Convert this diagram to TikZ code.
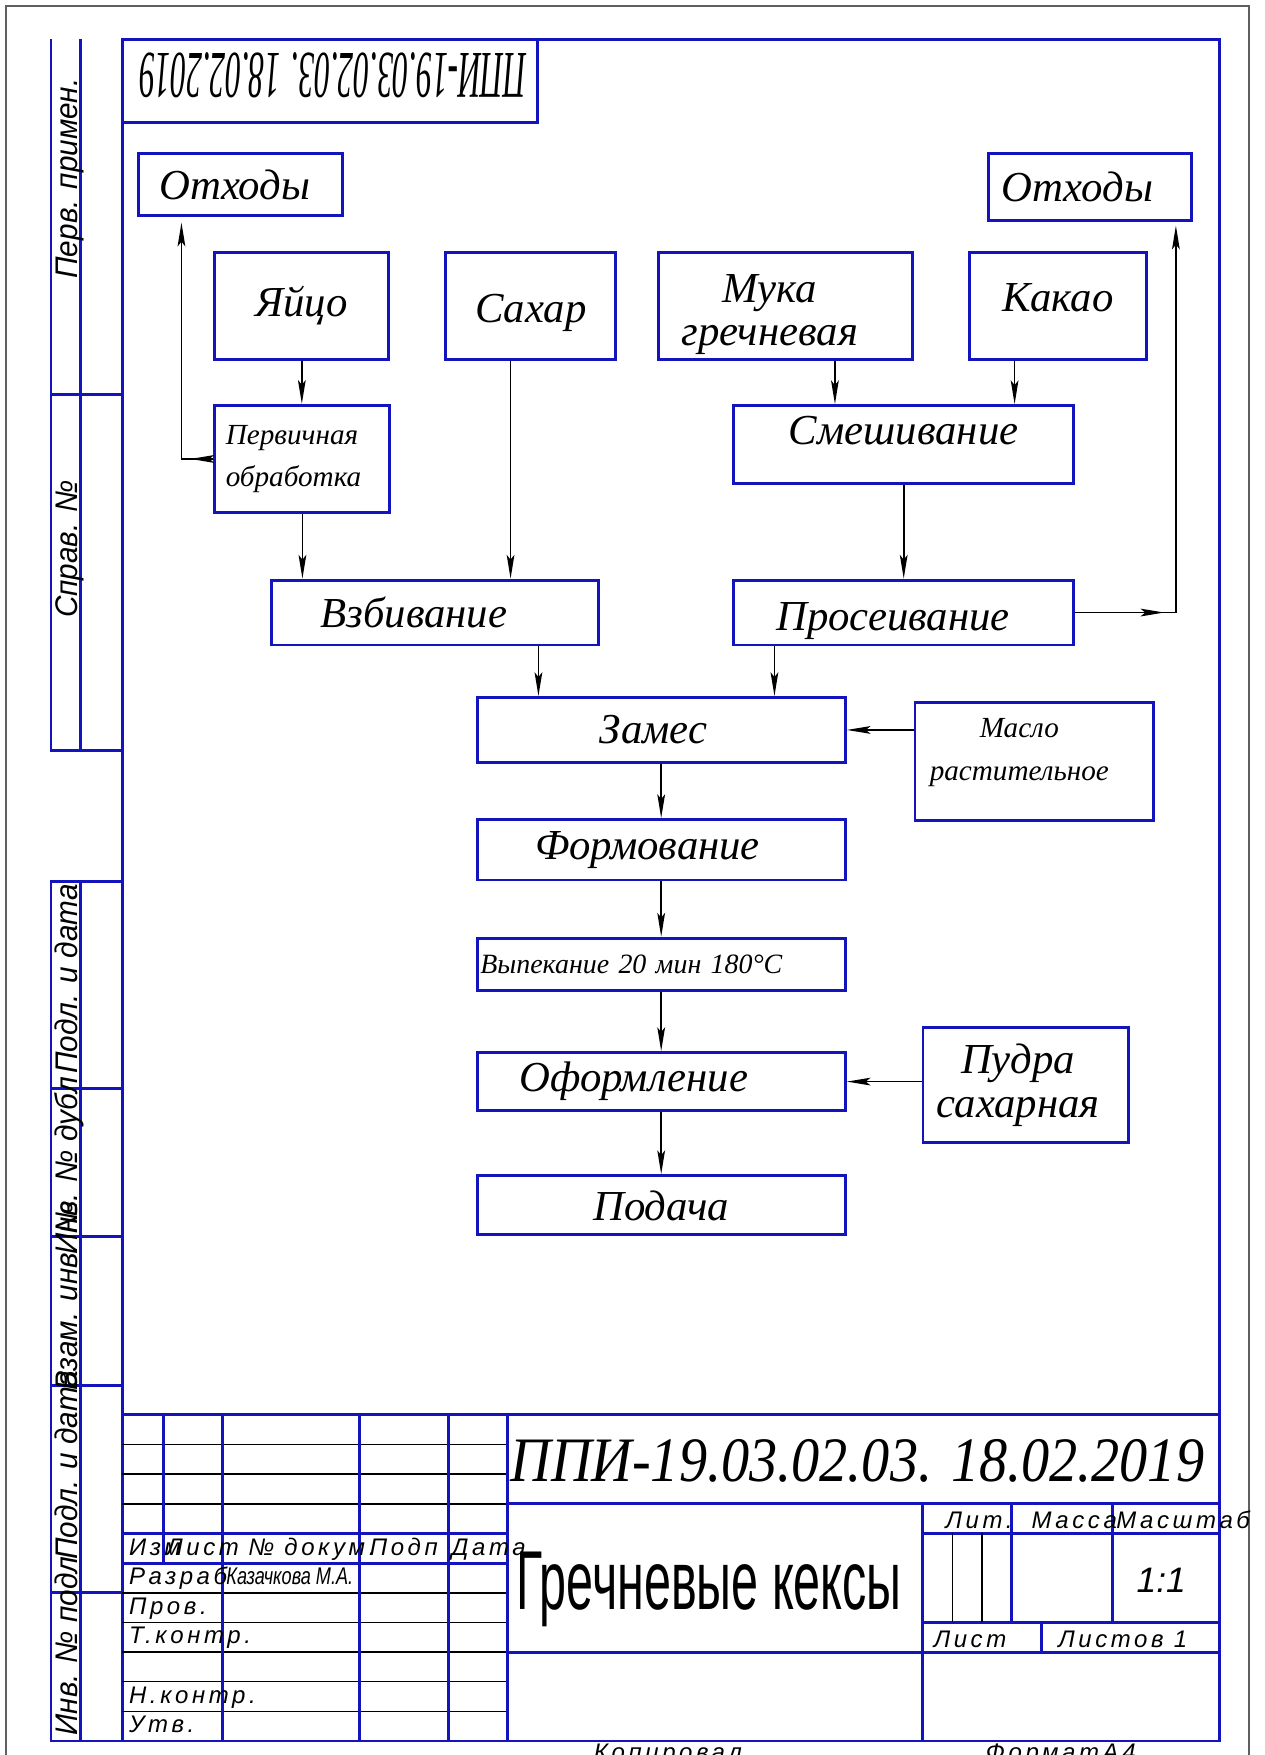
\documentclass[tikz,border=0pt]{standalone}
\usepackage{fontspec}
\setmainfont{Liberation Serif}
\newfontfamily\gostfont[LetterSpace=15]{Liberation Sans}
\newfontfamily\sidefont[FakeStretch=0.95]{Liberation Sans}
\newfontfamily\narrowfont{Liberation Sans}
\usetikzlibrary{arrows.meta,positioning,calc}
\definecolor{frameblue}{RGB}{20,20,190}
\definecolor{sheetgray}{RGB}{95,95,95}
\tikzset{
	>={Stealth[length=4mm,width=1.3mm,inset=0.8mm]},
	box/.style={draw=frameblue, line width=0.5mm, inner sep=0pt, align=center,
		font=\itshape\fontsize{20.5}{21}\selectfont},
	smallbox/.style={box, font=\itshape\fontsize{14}{20.5}\selectfont},
	arr/.style={->, line width=0.3mm},
	bline/.style={draw=frameblue, line width=0.5mm},
	tline/.style={draw=black, line width=0.25mm},
	sidetxt/.style={rotate=90, anchor=base, inner sep=0pt,
		font=\sidefont\itshape\fontsize{15}{15}\selectfont},
	gost/.style={anchor=base west, inner sep=0pt,
		font=\gostfont\itshape\fontsize{11.5}{12}\selectfont},
}

\begin{document}
\begin{tikzpicture}[x=1mm, y=1mm]
	\useasboundingbox (-20.6,-2.36) rectangle (192.7,293.6);
	\fill[white] (-20.6,-2.36) rectangle (192.7,293.6);
	% sheet edge
	\draw[sheetgray, line width=0.35mm] (-19.6,-10) -- (-19.6,292.6) -- (190,292.6) -- (190,-10);

	% frame and side columns
	\draw[bline] (0,0) rectangle (185,287);
	\draw[bline] (0,0) -- (-12,0) -- (-12,145) -- (0,145);
	\draw[bline] (-7,0) -- (-7,145);
	\foreach \y in {25,60,85,110}
		\draw[bline] (-12,\y) -- (0,\y);
	\draw[bline] (0,167) -- (-12,167) -- (-12,287);
	\draw[bline] (-7,167) -- (-7,287);
	\draw[bline] (-12,227) -- (0,227);
	\draw[bline] (0,273) rectangle (70,287);
	\foreach \y/\word [count=\i] in {16/Инв. № подл, 46.5/Подл. и дата, 75/Взам. инв. №, 97/Инв. № дубл, 128.5/Подл. и дата, 201/Справ. №, 263.5/Перв. примен.}
		\node[sidetxt] (side\i) at (-7.6,\y) {\word};
	\node[rotate=180, inner sep=0pt] (code) at (35.55,280.85) {\resizebox{65.3mm}{7.5mm}{\itshape ППИ-19.03.02.03. 18.02.2019}};

	% flow chart
	\node[box, minimum width=34.4mm, minimum height=10.4mm] (otx1) at (20.0,262.5) {Отходы\hspace*{2mm}};
	\node[box, minimum width=34.2mm, minimum height=11.3mm] (otx2) at (163.2,262.05) {Отходы\hspace*{4.2mm}};
	\node[box, minimum width=29.3mm, minimum height=17.9mm] (yaico) at (30.3,242.0) {Яйцо};
	\node[box, minimum width=28.7mm, minimum height=17.9mm, text height=5.6mm, text depth=0mm] (sahar) at (68.9,242.0) {Сахар};
	\node[box, minimum width=42.9mm, minimum height=17.9mm] (muka) at (111.9,242.0) {\rule{0pt}{7.6mm}Мука\hspace*{5.4mm}\\гречневая\hspace*{5.4mm}};
	\node[box, minimum width=29.8mm, minimum height=17.9mm, text height=4.75mm, text depth=2.75mm] (kakao) at (157.8,242.0) {Какао};
	\node[smallbox, minimum width=29.5mm, minimum height=18.1mm, align=left] (perv) at (30.4,216.2) {Первичная\\обработка\hspace*{3mm}};
	\node[box, minimum width=57.4mm, minimum height=13.2mm, text height=4.7mm, text depth=4.7mm] (smesh) at (131.8,218.6) {Смешивание};
	\node[box, minimum width=55.1mm, minimum height=10.95mm] (vzbiv) at (52.7,190.3) {Взбивание\hspace*{7mm}};
	\node[box, minimum width=57.4mm, minimum height=10.95mm, text height=6mm, text depth=0mm] (pros) at (131.8,190.3) {Просеивание\hspace*{3.6mm}};
	\node[box, minimum width=62.1mm, minimum height=10.95mm] (zames) at (90.9,170.5) {Замес\hspace*{2.6mm}};
	\node[smallbox, minimum width=40.2mm, minimum height=20mm] (maslo) at (153.8,165.2) {Масло\hspace*{5mm}\\растительное\hspace*{5mm}\rule[-4.1mm]{0pt}{4.1mm}};
	\node[box, minimum width=62.1mm, minimum height=10.2mm] (form) at (90.9,150.3) {Формование\hspace*{4.6mm}};
	\node[box, minimum width=62.1mm, minimum height=8.9mm, text width=61mm, align=left,
		font=\itshape\fontsize{13.4}{15}\selectfont] (vypek) at (90.9,130.95) {Выпекание 20 мин 180°C};
	\node[box, minimum width=62.1mm, minimum height=9.8mm] (oform) at (90.9,111.2) {Оформление\hspace*{9.2mm}};
	\node[box, minimum width=34.7mm, minimum height=19.3mm] (pudra) at (152.4,110.65) {Пудра\hspace*{2.6mm}\\сахарная\hspace*{2.6mm}};
	\node[box, minimum width=62.1mm, minimum height=10mm, text height=5mm, text depth=0mm] (podacha) at (90.9,90.35) {Подача};

	\draw[arr] (yaico.south) -- (yaico.south |- perv.north);
	\draw[arr] (perv.south) -- (perv.south |- vzbiv.north);
	\draw[arr] ([xshift=-3.4mm]sahar.south) -- ([xshift=-3.4mm]sahar.south |- vzbiv.north);
	\draw[arr] ([xshift=8.3mm]muka.south) -- ([xshift=8.3mm]muka.south |- smesh.north);
	\draw[arr] ([xshift=-7.3mm]kakao.south) -- ([xshift=-7.3mm]kakao.south |- smesh.north);
	\draw[arr] (smesh) -- (pros);
	\draw[arr] ([xshift=17.5mm]vzbiv.south) -- ([xshift=17.5mm]vzbiv.south |- zames.north);
	\draw[arr] ([xshift=-21.8mm]pros.south) -- ([xshift=-21.8mm]pros.south |- zames.north);
	\draw[arr] (zames) -- (form);
	\draw[arr] (form) -- (vypek);
	\draw[arr] (vypek) -- (oform);
	\draw[arr] (oform) -- (podacha);
	\draw[arr] (maslo.west |- zames.east) -- (zames.east);
	\draw[arr] (pudra.west |- oform.east) -- (oform.east);
	% waste
	\draw[arr] (perv.west) -- ++(-3.9,0);
	\draw[arr, shorten >=1mm] (perv.west) -| ([xshift=-10mm]otx1.south);
	\draw[arr] (pros.east) -- ++(15,0);
	\draw[arr, shorten >=0.6mm] (pros.east) -| ([xshift=14.5mm]otx2.south);

	% title block
	\draw[bline] (0,55) -- (185,55);
	\foreach \y in {50,45,40,25,20,15,10,5}
		\draw[tline] (0,\y) -- (65,\y);
	\draw[bline] (0,35) -- (65,35);
	\draw[bline] (0,30) -- (65,30);
	\draw[bline] (7,30) -- (7,55);
	\foreach \x in {17,40,55,65}
		\draw[bline] (\x,0) -- (\x,55);
	\draw[bline] (65,40) -- (185,40);
	\draw[bline] (65,15) -- (185,15);
	\draw[bline] (135,0) -- (135,40);
	\draw[bline] (135,35) -- (185,35);
	\draw[bline] (135,20) -- (185,20);
	\draw[bline] (150,20) -- (150,40);
	\draw[bline] (167,20) -- (167,40);
	\draw[tline] (140,20) -- (140,35);
	\draw[tline] (145,20) -- (145,35);
	\draw[bline] (155,15) -- (155,20);

	\node[gost] (izm) at (1.1,31.2) {Изм};
	\node[gost] (list) at (7.4,31.2) {Лист};
	\node[gost] (ndoc) at (21.2,31.2) {№ докум.};
	\node[gost] (podp) at (41.7,31.2) {Подп};
	\node[gost] (data) at (55.5,31.2) {Дата};
	\foreach \y/\word [count=\i] in {26.4/Разраб, 21.4/Пров., 16.4/Т.контр., 6.4/Н.контр., 1.4/Утв.}
		\node[gost] (role\i) at (1.1,\y) {\word};
	\node[gost] (author) at (17.5,26.4) {\resizebox{21.4mm}{2.8mm}{\narrowfont Казачкова М.А.}};
	\node[anchor=base west, inner sep=0pt] (desig) at (65.4,43.8) {\resizebox{117mm}{7.1mm}{\itshape ППИ-19.03.02.03. 18.02.2019}};
	\node[anchor=base west, inner sep=0pt] (title) at (66.4,22.2) {\resizebox{65mm}{9.7mm}{\narrowfont Гречневые кексы}};
	\node[gost] (lit) at (138.8,35.9) {Лит.};
	\node[gost] (massa) at (153.3,35.9) {Масса};
	\node[gost] (masht) at (167.6,35.9) {Масштаб};
	\node[gost, font=\narrowfont\itshape\fontsize{17}{17}\selectfont] (scale) at (171,25) {1:1};
	\node[gost] (sheet) at (136.8,15.8) {Лист};
	\node[gost] (sheets) at (157.8,15.8) {Листов 1};
	\node[gost, anchor=north west] (copied) at (79.5,-0.5) {Копировал};
	\node[gost, anchor=north west] (format) at (145.6,-0.5) {ФорматА4};
\end{tikzpicture}
\end{document}
